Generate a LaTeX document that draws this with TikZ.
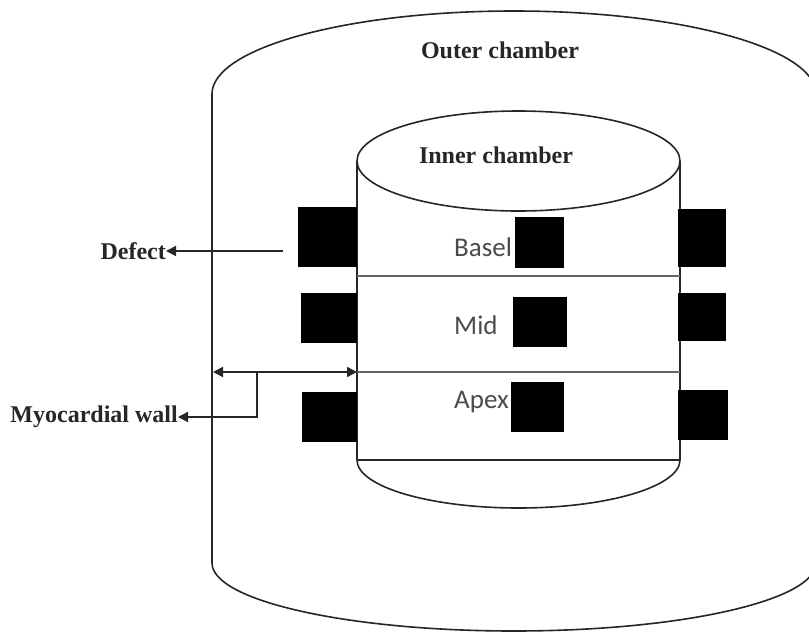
\documentclass[tikz,border=0pt]{standalone}
\usepackage{fontspec}
\setmainfont{Liberation Serif}
\newfontfamily\segfont{Carlito}
\usetikzlibrary{arrows.meta}
\begin{document}
\begin{tikzpicture}[x=1pt,y=-1pt,
  wall/.style={draw=black!85,line width=1.6pt},
  sepline/.style={draw=black!60,line width=1.6pt},
  blk/.style={fill=black,draw=none,inner sep=0pt},
  title/.style={font=\fontsize{24}{28}\selectfont\bfseries,text=black!85,inner sep=0pt},
  seglabel/.style={font=\segfont\fontsize{27}{31}\selectfont,text=black!70,inner sep=0pt,anchor=west},
  tip/.style={Triangle[length=10pt,width=10pt]},
  pointer/.style={draw=black!85,line width=1.6pt,-{Triangle[length=10pt,width=10pt]}},
]
\useasboundingbox (0,0) rectangle (809,632);
\fill[white] (0,0) rectangle (809,632);
\begin{scope}
\clip (0,0) rectangle (809,632);
% outer chamber: top rim, left wall, bottom rim
\draw[wall] (212,94) arc[start angle=180,end angle=360,x radius=302,y radius=83]
  -- (816,563) arc[start angle=0,end angle=180,x radius=302,y radius=68] -- cycle;
\end{scope}

% inner chamber
\draw[wall] (518.5,161) ellipse[x radius=161.5,y radius=50];
\draw[wall] (357,161) -- (357,460);
\draw[wall] (680,161) -- (680,460);
\draw[wall] (357,460) -- (680,460);
\draw[wall] (680,460) arc[start angle=0,end angle=180,x radius=161.5,y radius=48];
\draw[sepline] (357,276) -- (680,276);
\draw[sepline] (357,372) -- (680,372);

% segment labels
\node[seglabel] (basel) at (454,247) {Basel};
\node[seglabel] (mid) at (454,325) {Mid};
\node[seglabel] (apex) at (454,402) {Apex};

% defects: left wall, centre, right wall
\node[blk,minimum width=59,minimum height=60] (dl1) at (327.5,237) {};
\node[blk,minimum width=56,minimum height=50] (dl2) at (329,318) {};
\node[blk,minimum width=55,minimum height=50] (dl3) at (329.5,417) {};
\node[blk,minimum width=49,minimum height=51] (dc1) at (539.5,242.5) {};
\node[blk,minimum width=54,minimum height=50] (dc2) at (540,322) {};
\node[blk,minimum width=53,minimum height=50] (dc3) at (537.5,407) {};
\node[blk,minimum width=48,minimum height=58] (dr1) at (702,238) {};
\node[blk,minimum width=48,minimum height=48] (dr2) at (702,317) {};
\node[blk,minimum width=50,minimum height=50] (dr3) at (703,415) {};

% titles
\node[title] (outer) at (500,50) {Outer chamber};
\node[title] (inner) at (496,155) {Inner chamber};
\node[title,anchor=east] (defect) at (166,251) {Defect};
\node[title,anchor=east] (myo) at (178,417) {Myocardial wall};

% pointers
\coordinate (dtail) at (283,251);
\draw[pointer] (dtail) -- (defect.east);
\coordinate (wallout) at (213,372);
\coordinate (wallin) at (357,372);
\coordinate (branch) at (257,372);
\draw[draw=black!85,line width=1.6pt,{Triangle[length=10pt,width=10pt]}-{Triangle[length=10pt,width=10pt]}] (wallout) -- (wallin);
\draw[pointer] (branch) |- (myo.east);
\end{tikzpicture}
\end{document}
